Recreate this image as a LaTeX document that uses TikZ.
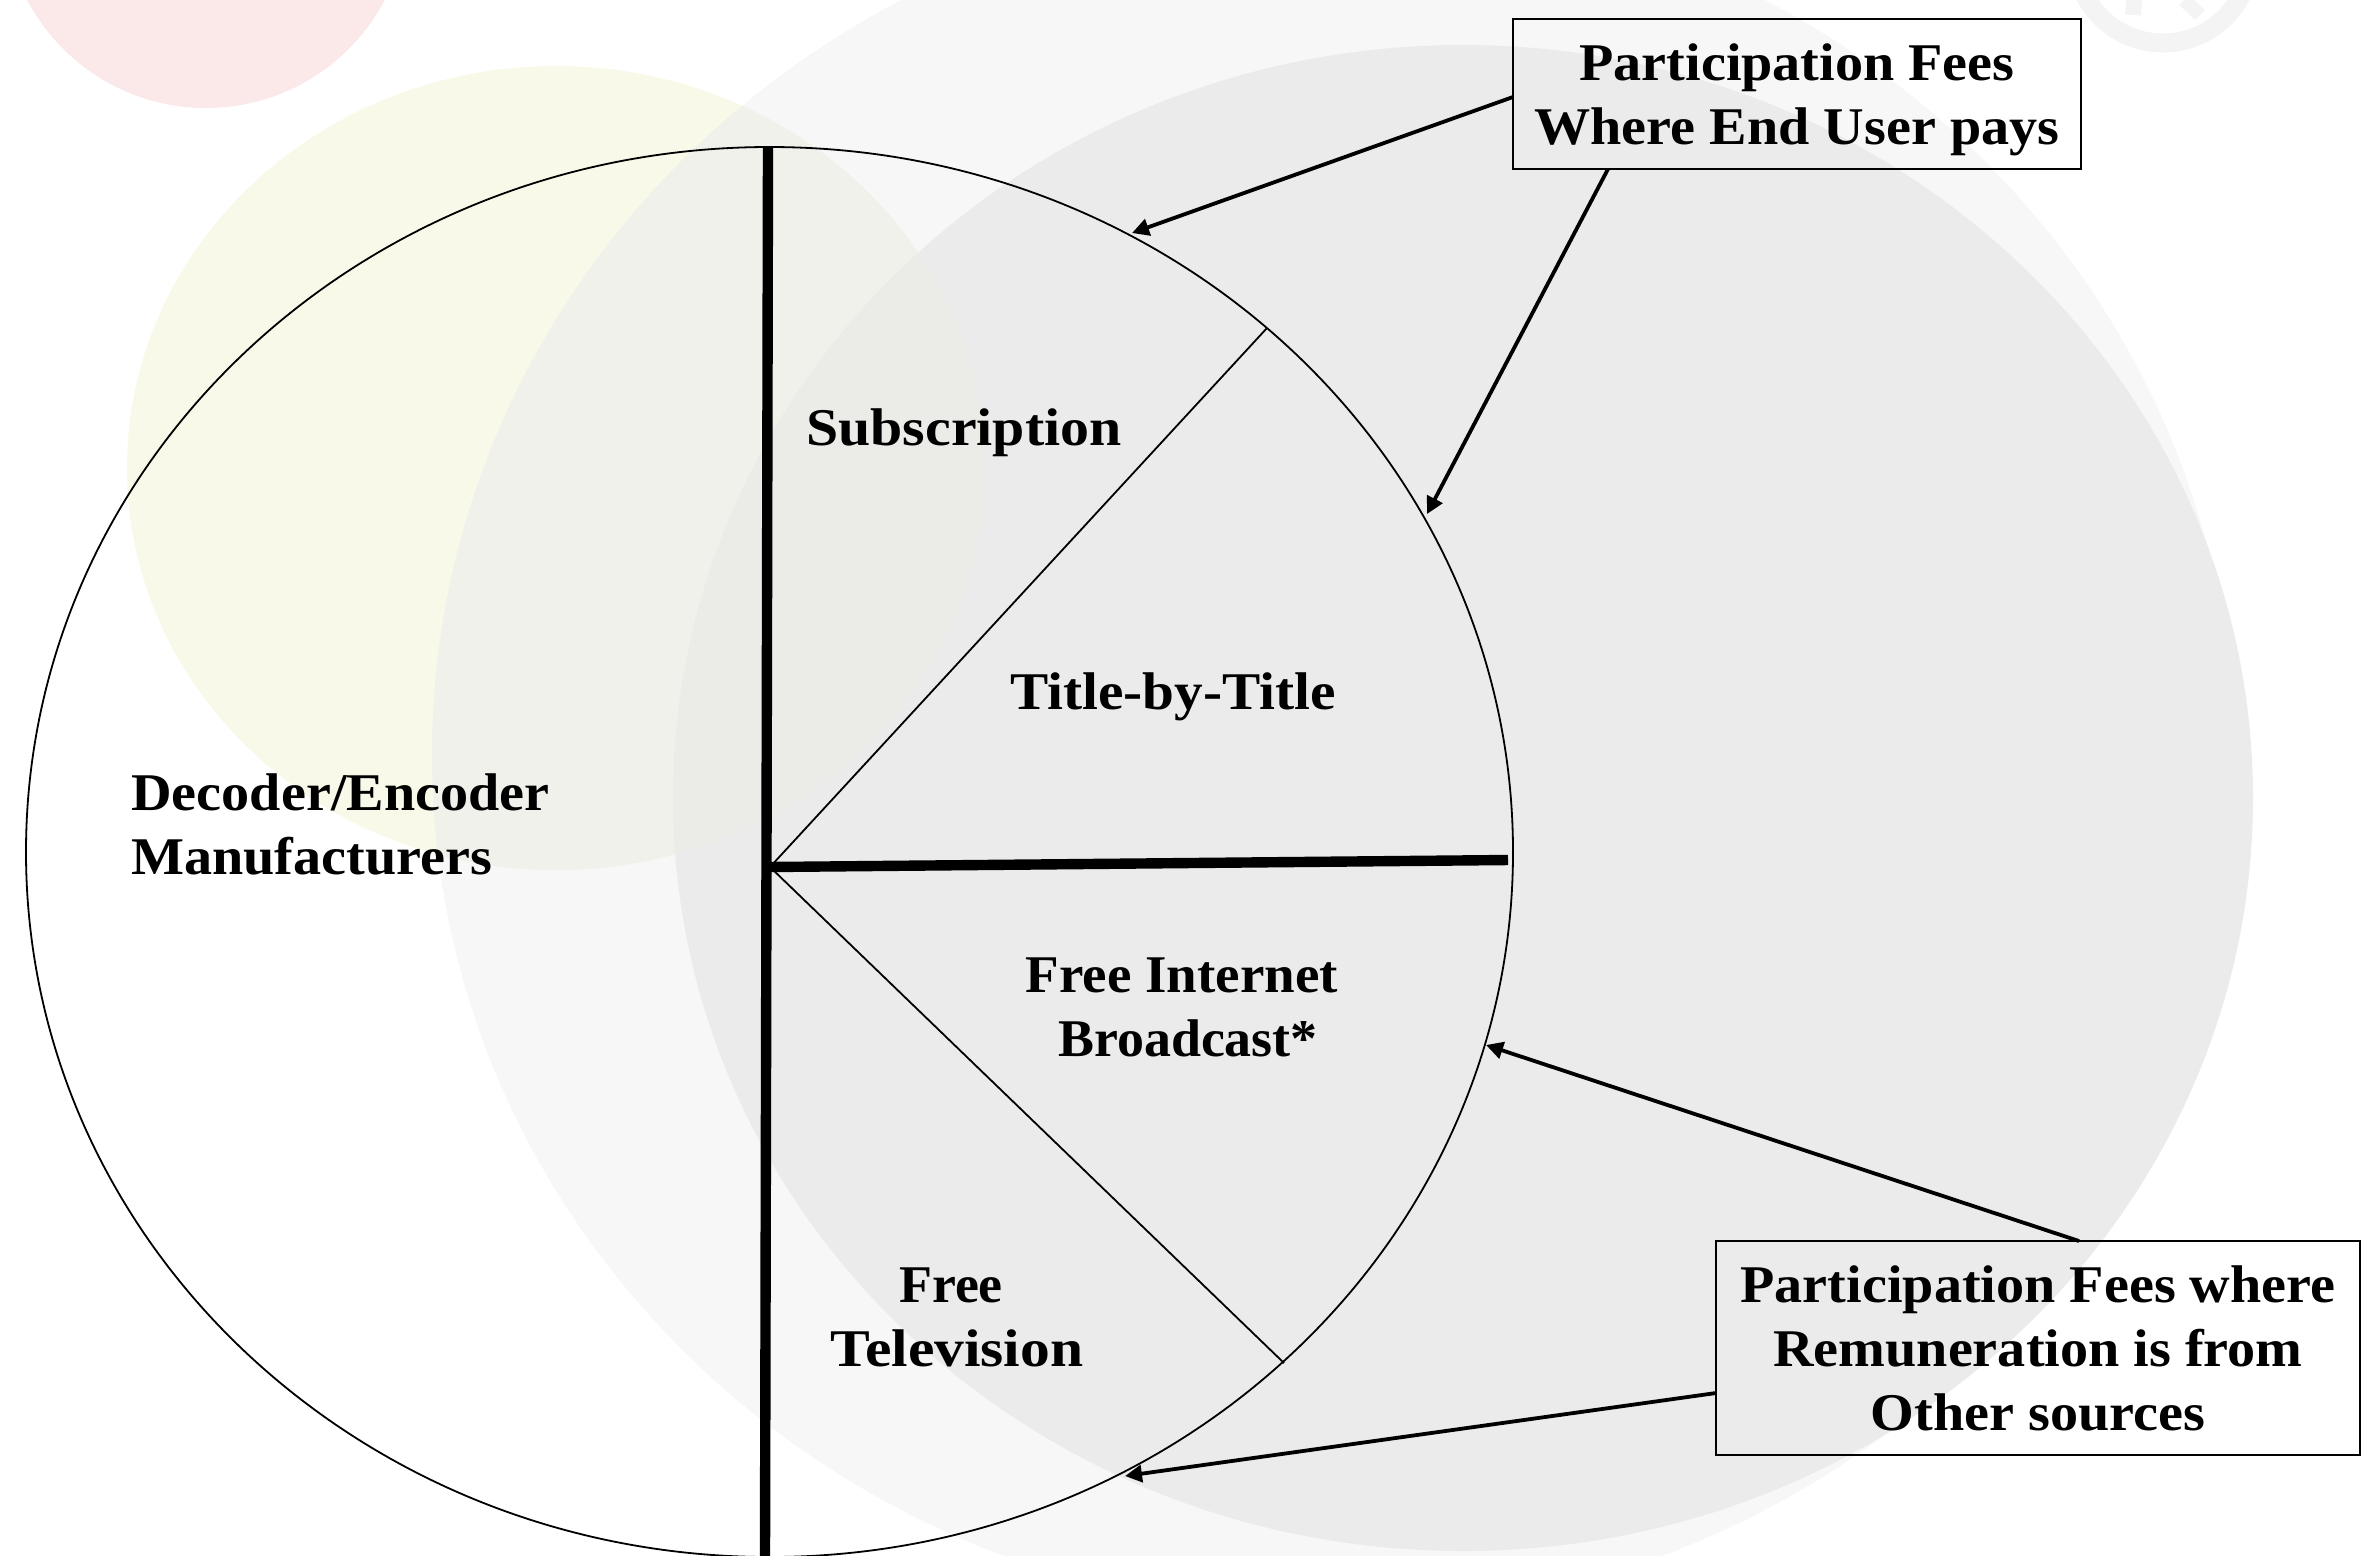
\documentclass[tikz,border=0pt]{standalone}
\usepackage{graphicx}
\usepackage{fontspec}
\setmainfont{Liberation Serif}[FakeStretch=1.06]
\usetikzlibrary{arrows.meta}
\definecolor{bgred}{HTML}{FBE9E9}
\definecolor{bgyellow}{HTML}{F9F9EA}
\definecolor{bglight}{HTML}{F7F7F7}
\definecolor{bgdark}{HTML}{EBEBEB}
\definecolor{bgyl}{HTML}{F0F1EB}
\definecolor{bgyd}{HTML}{EBECE7}
\definecolor{bgring}{HTML}{F4F4F4}
\tikzset{
  label/.style={font=\fontsize{26.5}{32}\selectfont\bfseries, align=center, inner sep=0pt},
  leftlabel/.style={label, align=left},
  feebox/.style={draw=black, line width=1pt, inner sep=0pt, outer sep=0pt, label},
  thickline/.style={line width=5.2pt},
  thinline/.style={line width=0.9pt},
  feearrow/.style={line width=1.9pt, -{Triangle[length=8.5pt,width=8.5pt]}}
}
\newcommand{\ellyellow}{(556,468) ellipse [x radius=429,y radius=402]}
\newcommand{\elllight}{(1333,755) ellipse [x radius=901,y radius=860]}
\newcommand{\elldark}{(1463,798) ellipse [x radius=790,y radius=753]}
\begin{document}
\begin{tikzpicture}[x=0.5pt,y=-0.5pt]
\useasboundingbox (0,0) rectangle (2361,1555);
\begin{scope}
\clip (0,0) rectangle (2361,1555);
% faint background shapes
\fill[bgred] (206,-94) circle [x radius=202,y radius=202];
\fill[bglight] \elllight;
\fill[bgdark] \elldark;
\fill[bgyellow] \ellyellow;
\begin{scope}
  \clip \ellyellow;
  \fill[bgyl] \elllight;
  \fill[bgyd] \elldark;
\end{scope}
\draw[bgring, line width=9.5pt] (2163,-45) circle [x radius=88,y radius=88];
\draw[bgring, line width=8pt] (2134,0) -- (2133,15);
\draw[bgring, line width=7pt] (2184,0) -- (2200,15);
% pie
\coordinate (top) at (768,148);
\coordinate (bottom) at (765,1556);
\coordinate (hub) at (770,867);
\coordinate (east) at (1508,860);
\coordinate (rimA) at (1267,328);
\coordinate (rimB) at (1284,1363);
\draw[thinline] (769.5,852) ellipse [x radius=743.5,y radius=705];
\draw[thickline] (top) -- (bottom);
\draw[thickline] (hub) -- (east);
\draw[thinline] (hub) -- (rimA);
\draw[thinline] (hub) -- (rimB);
\end{scope}
% labels
\node[label] (sub) at (964,433) {\scalebox{1.03}[1]{Subscription}};
\node[label] (tbt) at (1173,697) {\scalebox{1.02}[1]{Title-by-Title}};
\node[label] (fib) at (1182,1007) {\scalebox{0.98}[1]{Free Internet}\\ \hspace*{6pt}\scalebox{0.96}[1]{Broadcast*}};
\node[label] (ftv) at (957,1317) {\scalebox{0.96}[1]{Free}\hspace*{6pt}\\\scalebox{1.06}[1]{Television}};
\node[leftlabel, anchor=west] (dem) at (131,824) {Decoder/Encoder\\Manufacturers};
% boxes
\node[feebox, minimum width=284pt, minimum height=75pt] (boxA) at (1797,94) {\rule{0pt}{24pt}Participation Fees\\Where End User pays};
\node[feebox, minimum width=322pt, minimum height=107pt] (boxB) at (2038,1348) {Participation Fees where\\Remuneration is from\\Other sources};
% arrow targets on the rim
\coordinate (tA) at (1132,233);
\coordinate (tB) at (1427,514);
\coordinate (tC) at (1486,1045);
\coordinate (tD) at (1125,1476);
\draw[feearrow] ([yshift=-1.5pt]boxA.west) -- (tA);
\draw[feearrow] ([xshift=-94.5pt]boxA.south) -- (tB);
\draw[feearrow] ([xshift=20.5pt]boxB.north) -- (tC);
\draw[feearrow] ([yshift=-22.5pt]boxB.west) -- (tD);
\end{tikzpicture}
\end{document}
